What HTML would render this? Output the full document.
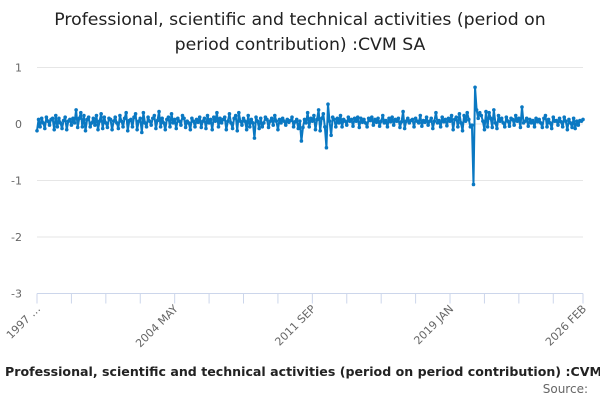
<!DOCTYPE html>
<html><head><meta charset="utf-8"><style>
body{margin:0;background:#fff;width:600px;height:400px;overflow:hidden;font-family:"DejaVu Sans","Liberation Sans",sans-serif}
svg{display:block}
</style></head><body>
<svg id="chart" width="600" height="400" font-family="DejaVu Sans, Liberation Sans, sans-serif">
<text x="300" y="25" text-anchor="middle" font-size="17.3" fill="#222">Professional, scientific and technical activities (period on</text>
<text x="300" y="50" text-anchor="middle" font-size="17.3" fill="#222">period contribution) :CVM SA</text>
<g id="grid"></g><g id="xaxis"></g><g id="series"></g>
<text x="5" y="376" font-size="12.6" font-weight="bold" fill="#222">Professional, scientific and technical activities (period on period contribution) :CVM SA</text>
<text x="588" y="393" text-anchor="end" font-size="12" fill="#666">Source:</text>
</svg>
<script>
const yTicks=[1,0,-1,-2,-3];
const xLabels=["1997 …","2004 MAY","2011 SEP","2019 JAN","2026 FEB"];
const xLabelIdx=[0,88,176,264,349];
const values=[
-0.12,0.08,-0.05,0.1,0.02,-0.08,0.12,0.05,-0.02,0.08,0.1,-0.1,
0.15,-0.05,0.1,0.02,-0.08,0.06,0.12,-0.1,0.05,0.08,-0.02,0.1,
0.02,0.25,-0.06,0.1,0.2,-0.05,0.15,-0.12,0.08,0.12,-0.05,0.02,
0.1,-0.02,0.15,-0.1,0.05,0.18,-0.08,0.12,0.02,-0.06,0.1,0.08,
-0.1,0.05,0.12,0.02,-0.08,0.15,0.05,-0.05,0.1,0.2,-0.12,0.06,
0.08,-0.05,0.12,0.18,-0.1,0.05,0.1,-0.15,0.2,0.02,-0.05,0.12,
0.05,-0.02,0.1,0.15,-0.08,0.06,0.22,-0.05,0.1,0.02,-0.1,0.08,
0.12,-0.05,0.18,0.02,0.08,-0.08,0.1,0.05,-0.02,0.15,0.1,-0.06,
0.05,0.02,-0.1,0.1,0.05,-0.05,0.08,0.03,0.12,-0.06,0.05,0.1,
-0.08,0.15,0.02,0.08,-0.1,0.12,0.05,0.2,-0.05,0.1,0.02,0.08,
0.12,-0.1,0.05,0.18,0.02,-0.08,0.1,0.15,-0.12,0.2,0.05,-0.02,
0.1,0.05,-0.1,0.15,-0.05,0.08,0.02,-0.25,0.12,0.05,-0.08,0.1,
-0.05,0.02,0.12,0.08,-0.06,0.05,0.1,-0.02,0.15,0.05,-0.1,0.08,
0.02,0.1,0.05,-0.02,0.08,0.03,0.06,0.12,-0.05,0.04,0.08,-0.08,
0.05,-0.3,-0.06,0.08,0.02,0.2,-0.05,0.1,0.05,0.15,-0.1,0.08,
0.25,-0.12,0.1,0.18,-0.05,-0.42,0.35,0.05,-0.2,0.12,0.08,-0.05,
0.1,0.02,0.15,-0.05,0.08,0.05,-0.02,0.12,0.05,0.08,-0.04,0.1,
0.05,0.12,-0.06,0.1,0.03,0.08,0.02,-0.05,0.1,0.06,0.12,-0.02,
0.08,0.03,0.1,-0.04,0.05,0.15,0.02,0.06,-0.05,0.1,0.04,0.12,
-0.02,0.08,0.05,0.1,-0.06,0.04,0.22,-0.08,0.05,0.1,0.02,0.06,
0.08,-0.05,0.1,0.05,0.02,0.15,-0.04,0.06,0.03,0.12,-0.02,0.05,
0.1,-0.08,0.05,0.2,0.02,0.06,-0.05,0.12,0.04,0.08,-0.03,0.1,
0.05,0.15,-0.1,0.08,0.12,-0.05,0.18,0.02,-0.12,0.15,0.05,0.2,
0.08,-0.05,-0.02,-1.07,0.65,0.25,0.1,0.2,0.15,0.05,-0.1,0.22,
-0.05,0.2,0.1,-0.06,0.25,0.02,-0.08,0.15,0.05,0.1,0.02,-0.05,
0.12,0.05,-0.04,0.1,0.08,-0.02,0.15,0.05,0.1,-0.06,0.3,0.02,
0.05,0.1,-0.04,0.08,0.02,0.06,-0.05,0.1,0.04,0.08,0.02,-0.06,
0.1,0.15,-0.05,0.08,0.02,-0.08,0.12,0.05,0.06,-0.02,0.1,0.04,
-0.05,0.12,0.05,-0.1,0.08,0.02,-0.06,0.1,-0.08,0.05,-0.02,0.06,
0.05,0.08];
const NS="http://www.w3.org/2000/svg";
const X0=37,X1=583,Y0=124,PX=56.5;
const xs=i=>X0+i*(X1-X0)/(values.length-1);
const ys=v=>Y0-v*PX;
function mk(t,a,p){const e=document.createElementNS(NS,t);for(const k in a)e.setAttribute(k,a[k]);p.appendChild(e);return e;}
const grid=document.getElementById('grid');
yTicks.forEach(v=>{
  if(v!==-3){const l=mk('line',{x1:X0,x2:X1,y1:ys(v),y2:ys(v),stroke:'#e6e6e6'},grid);
  
  }
  const t=mk('text',{x:22,y:ys(v)+4,'text-anchor':'end','font-size':11,fill:'#666'},grid);
  
  
  t.textContent=v;
});
const xa=document.getElementById('xaxis');
const axl=mk('line',{x1:X0,x2:X1,y1:ys(-3),y2:ys(-3),stroke:'#ccd6eb'},xa);


for(let i=0;i<values.length;i+=22){
  const tk=mk('line',{x1:xs(i),x2:xs(i),y1:ys(-3),y2:ys(-3)+10,stroke:'#ccd6eb'},xa);
  
  
}
const last=mk('line',{x1:xs(values.length-1),x2:xs(values.length-1),y1:ys(-3),y2:ys(-3)+10,stroke:'#ccd6eb'},xa);


xLabels.forEach((s,k)=>{
  const x=xs(xLabelIdx[k])+4,y=ys(-3)+16;
  const t=mk('text',{x:x,y:y,'text-anchor':'end','font-size':11,fill:'#666',transform:`rotate(-45 ${x} ${y})`},xa);
  
  
  t.textContent=s;
});
const sg=document.getElementById('series');
const pts=values.map((v,i)=>xs(i).toFixed(2)+','+ys(v).toFixed(2)).join(' ');
const pl=mk('polyline',{points:pts,fill:'none',stroke:'#0a78c2','stroke-width':2,'stroke-linejoin':'round'},sg);


values.forEach((v,i)=>{
  const c=mk('circle',{cx:xs(i),cy:ys(v),r:1.8,fill:'#0a78c2'},sg);
  
  
});
</script>
</body></html>
